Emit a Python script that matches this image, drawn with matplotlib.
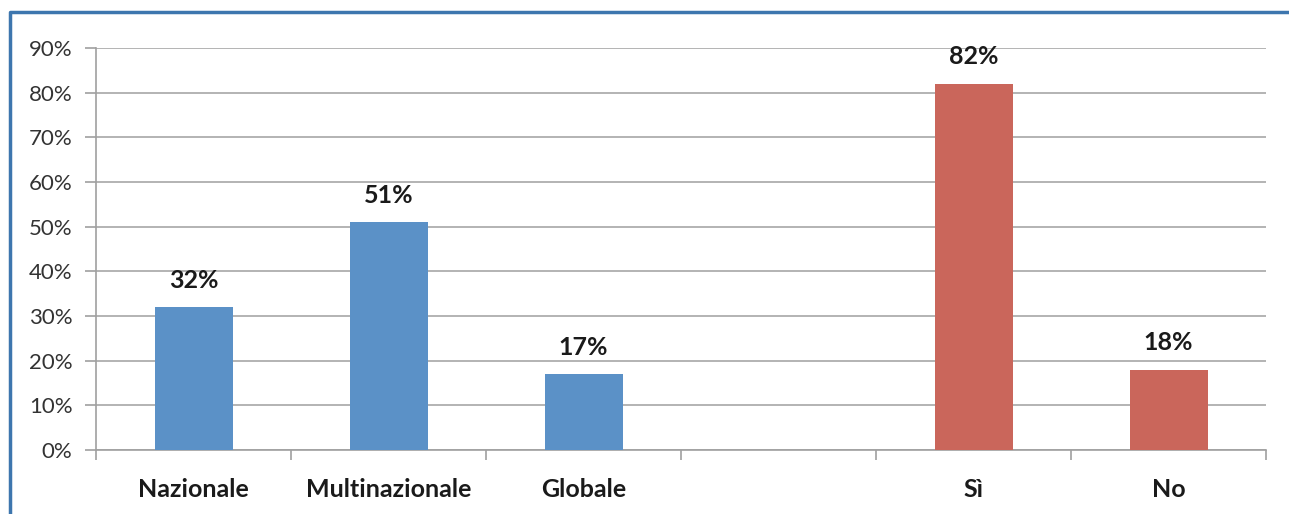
import matplotlib.pyplot as plt
import matplotlib.ticker as tckr
from matplotlib.lines import Line2D

# Data
categories = ['Nazionale', 'Multinazionale', 'Globale', '', 'Sì', 'No']
values = [32, 51, 17, None, 82, 18]
bar_colors = ['#5B91C7', '#5B91C7', '#5B91C7', '#5B91C7', '#CA665B', '#CA665B']

plt.rcParams['font.family'] = ['Lato', 'DejaVu Sans']

fig = plt.figure(figsize=(12.89, 5.14), dpi=100)
ax = fig.add_axes([96 / 1289, 1 - 450 / 514, (1266 - 96) / 1289, (450 - 48) / 514])

xs = list(range(len(categories)))
for x, v, c in zip(xs, values, bar_colors):
    if v is None:
        continue
    ax.bar(x, v, width=0.4, color=c, zorder=3)
    ax.annotate('%d%%' % v, xy=(x, v), xytext=(0, 11), textcoords='offset points',
                ha='center', va='bottom', fontsize=18, fontweight='bold', color='#1a1a1a')

ax.set_xlim(-0.5, len(categories) - 0.5)
ax.set_ylim(0, 90)

ax.yaxis.set_major_locator(tckr.MultipleLocator(10))
ax.yaxis.set_major_formatter(tckr.FuncFormatter(lambda v, p: '%d%%' % v))
ax.grid(True, axis='y', color='#B3B3B3', linewidth=1.4, zorder=0)
ax.set_axisbelow(True)

# Category labels at centres, tick marks at boundaries
ax.set_xticks(xs)
ax.set_xticklabels(categories, fontsize=18, fontweight='bold', color='#1a1a1a')
ax.tick_params(axis='x', length=0, pad=20)
ax.set_xticks([x - 0.5 for x in xs] + [len(xs) - 0.5], minor=True)
ax.tick_params(axis='x', which='minor', length=7, width=1.2, color='#A0A0A0', direction='out')
ax.tick_params(axis='y', length=8, width=1.2, color='#A0A0A0', labelsize=16,
               labelcolor='#333333', pad=9)

for side in ['top', 'right']:
    ax.spines[side].set_visible(False)
for side in ['left', 'bottom']:
    ax.spines[side].set_color('#A0A0A0')
    ax.spines[side].set_linewidth(1.2)

# Outer blue frame (left and top edges)
fx = 10 / 1289
fy = 1 - 12 / 514
fig.add_artist(Line2D([fx, fx, 1.0], [0.0, fy, fy], color='#3D76AE', linewidth=2.5,
                      transform=fig.transFigure))

fig.savefig('out.png', dpi=100)
plt.close(fig)
